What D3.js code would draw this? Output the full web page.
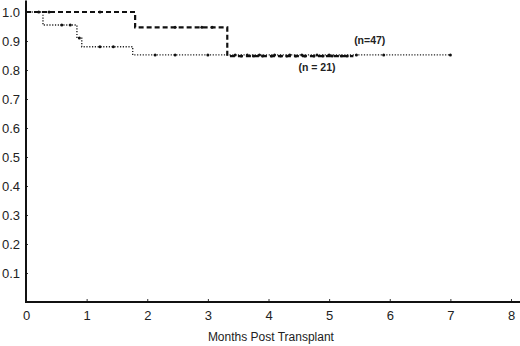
<!DOCTYPE html>
<html><head><meta charset="utf-8">
<script src="https://cdn.jsdelivr.net/npm/d3@7"></script>
<style>body{margin:0;background:#fff}svg{display:block}text{font-family:"Liberation Sans",Arial,sans-serif}</style>
</head><body>
<script>
const xTicks = [0,1,2,3,4,5,6,7,8];
const yTicks = [0.1,0.2,0.3,0.4,0.5,0.6,0.7,0.8,0.9,1.0];
// Step curves: [time, survival]
const seriesA = [[0,1.0],[1.8,1.0],[1.8,0.947],[3.32,0.947],[3.32,0.848],[5.4,0.848]]; // dashed
const seriesB = [[0,1.0],[0.28,1.0],[0.28,0.955],[0.84,0.955],[0.84,0.91],[0.92,0.91],[0.92,0.88],[1.76,0.88],[1.76,0.852],[7.0,0.852]]; // dotted
const censorA = [[0.21,1.0],[0.38,1.0],[1.22,1.0],[2.46,0.947],[2.9,0.947],[3.07,0.947],[3.55,0.848],[3.75,0.848],[3.9,0.848],[4.05,0.848],[4.2,0.848],[4.3,0.848],[4.45,0.848],[4.6,0.848],[4.75,0.848],[4.9,0.848],[5.05,0.848],[5.2,0.848],[5.3,0.848]];
const censorB = [[0.59,0.955],[0.73,0.955],[0.88,0.91],[1.22,0.88],[1.44,0.88],[2.13,0.852],[2.46,0.852],[3.0,0.852],[3.45,0.852],[3.65,0.852],[3.85,0.852],[4.1,0.852],[4.35,0.852],[4.55,0.852],[4.8,0.852],[5.0,0.852],[5.45,0.852],[5.9,0.852],[7.0,0.852]];
const labels = [{t:"(n=47)",x:5.67,y:0.89},{t:"(n = 21)",x:4.8,y:0.795}];

const W=520,H=346;
const svg=d3.select("body").append("svg").attr("width",W).attr("height",H);
const x=d3.scaleLinear().domain([0,8]).range([26,511]);
const y=d3.scaleLinear().domain([0,1]).range([302,12]);

// axes
const xa=svg.append("g").attr("transform","translate(0,302)")
  .call(d3.axisBottom(x).tickValues(xTicks).tickSize(-3).tickPadding(9).tickFormat(d3.format("d")));
xa.select(".domain").remove();
xa.selectAll("text").attr("font-size",13).attr("fill","#222");
xa.selectAll("line").attr("stroke","#333");
const ya=svg.append("g").attr("transform","translate(26,0)")
  .call(d3.axisLeft(y).tickValues(yTicks).tickSize(-2).tickPadding(6).tickFormat(d3.format(".1f")));
ya.select(".domain").remove();
ya.selectAll("text").attr("font-size",13).attr("fill","#222");
ya.selectAll("line").attr("stroke","#333");
svg.append("line").attr("x1",26).attr("x2",26).attr("y1",y(1.04)).attr("y2",302.5).attr("stroke","#111").attr("stroke-width",2);
svg.append("line").attr("x1",25).attr("x2",520).attr("y1",302).attr("y2",302).attr("stroke","#111").attr("stroke-width",2);
svg.append("text").attr("x",x(4.04)).attr("y",341).attr("text-anchor","middle").attr("font-size",12).attr("fill","#222").text("Months Post Transplant");

const line=d3.line().x(d=>x(d[0])).y(d=>y(d[1]));
svg.append("path").datum(seriesB).attr("d",line).attr("fill","none").attr("stroke","#222").attr("stroke-width",1.4).attr("stroke-dasharray","1.2,1.6");
svg.append("path").datum(seriesA).attr("d",line).attr("fill","none").attr("stroke","#111").attr("stroke-width",2.2).attr("stroke-dasharray","5,3");

svg.append("g").selectAll("circle").data(censorA.concat(censorB)).join("circle")
  .attr("cx",d=>x(d[0])).attr("cy",d=>y(d[1])).attr("r",1.5).attr("fill","#111");

svg.append("g").selectAll("text").data(labels).join("text")
  .attr("x",d=>x(d.x)).attr("y",d=>y(d.y)).attr("text-anchor","middle").attr("font-size",10.5).attr("font-weight","bold").attr("fill","#222").text(d=>d.t);
</script>
</body></html>
